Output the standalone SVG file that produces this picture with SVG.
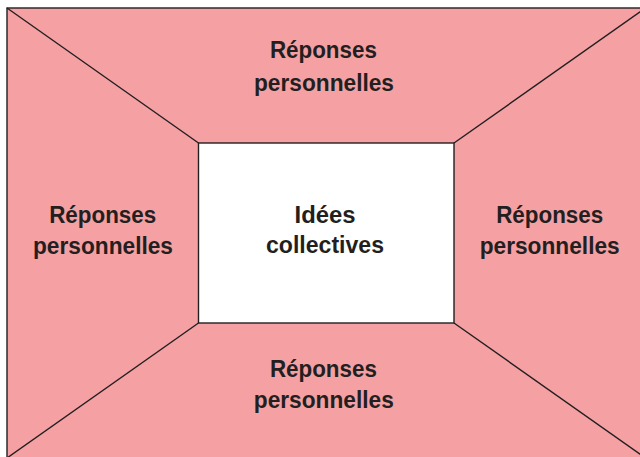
<svg xmlns="http://www.w3.org/2000/svg" width="640" height="457" viewBox="0 0 640 457">
<style>
.ln{stroke:#231f20;stroke-width:1.4;fill:none}
.t{font-family:"Liberation Sans",Arial,sans-serif;font-weight:bold;font-size:23px;fill:#231f20;text-anchor:middle}
</style>
<rect width="640" height="457" fill="#ffffff"/>
<g id="outer">
<rect x="7" y="8" width="638.5" height="450" fill="#f5a1a4" class="ln" style="fill:#f5a1a4"/>
</g>
<g id="connectors">
<line class="ln" x1="7" y1="8" x2="198.5" y2="143"/>
<line class="ln" x1="645.5" y1="8" x2="454" y2="143"/>
<line class="ln" x1="7" y1="458" x2="198.5" y2="323"/>
<line class="ln" x1="645.5" y1="458" x2="454" y2="323"/>
</g>
<g id="center">
<rect x="198.5" y="143" width="255.5" height="180" fill="#ffffff" class="ln" style="fill:#ffffff"/>
<text class="t" x="325" y="223.3" textLength="61" lengthAdjust="spacingAndGlyphs">Idées</text>
<text class="t" x="325" y="253.3" textLength="118" lengthAdjust="spacingAndGlyphs">collectives</text>
</g>
<g id="top">
<text class="t" x="323.4" y="58.3" textLength="107" lengthAdjust="spacingAndGlyphs">Réponses</text>
<text class="t" x="324" y="91" textLength="140" lengthAdjust="spacingAndGlyphs">personnelles</text>
</g>
<g id="left">
<text class="t" x="102.7" y="222.5" textLength="107" lengthAdjust="spacingAndGlyphs">Réponses</text>
<text class="t" x="103" y="253.6" textLength="140" lengthAdjust="spacingAndGlyphs">personnelles</text>
</g>
<g id="right">
<text class="t" x="549.7" y="222.7" textLength="107" lengthAdjust="spacingAndGlyphs">Réponses</text>
<text class="t" x="549.7" y="254" textLength="140" lengthAdjust="spacingAndGlyphs">personnelles</text>
</g>
<g id="bottom">
<text class="t" x="323.4" y="376.7" textLength="107" lengthAdjust="spacingAndGlyphs">Réponses</text>
<text class="t" x="323.8" y="408.3" textLength="140" lengthAdjust="spacingAndGlyphs">personnelles</text>
</g>
</svg>
